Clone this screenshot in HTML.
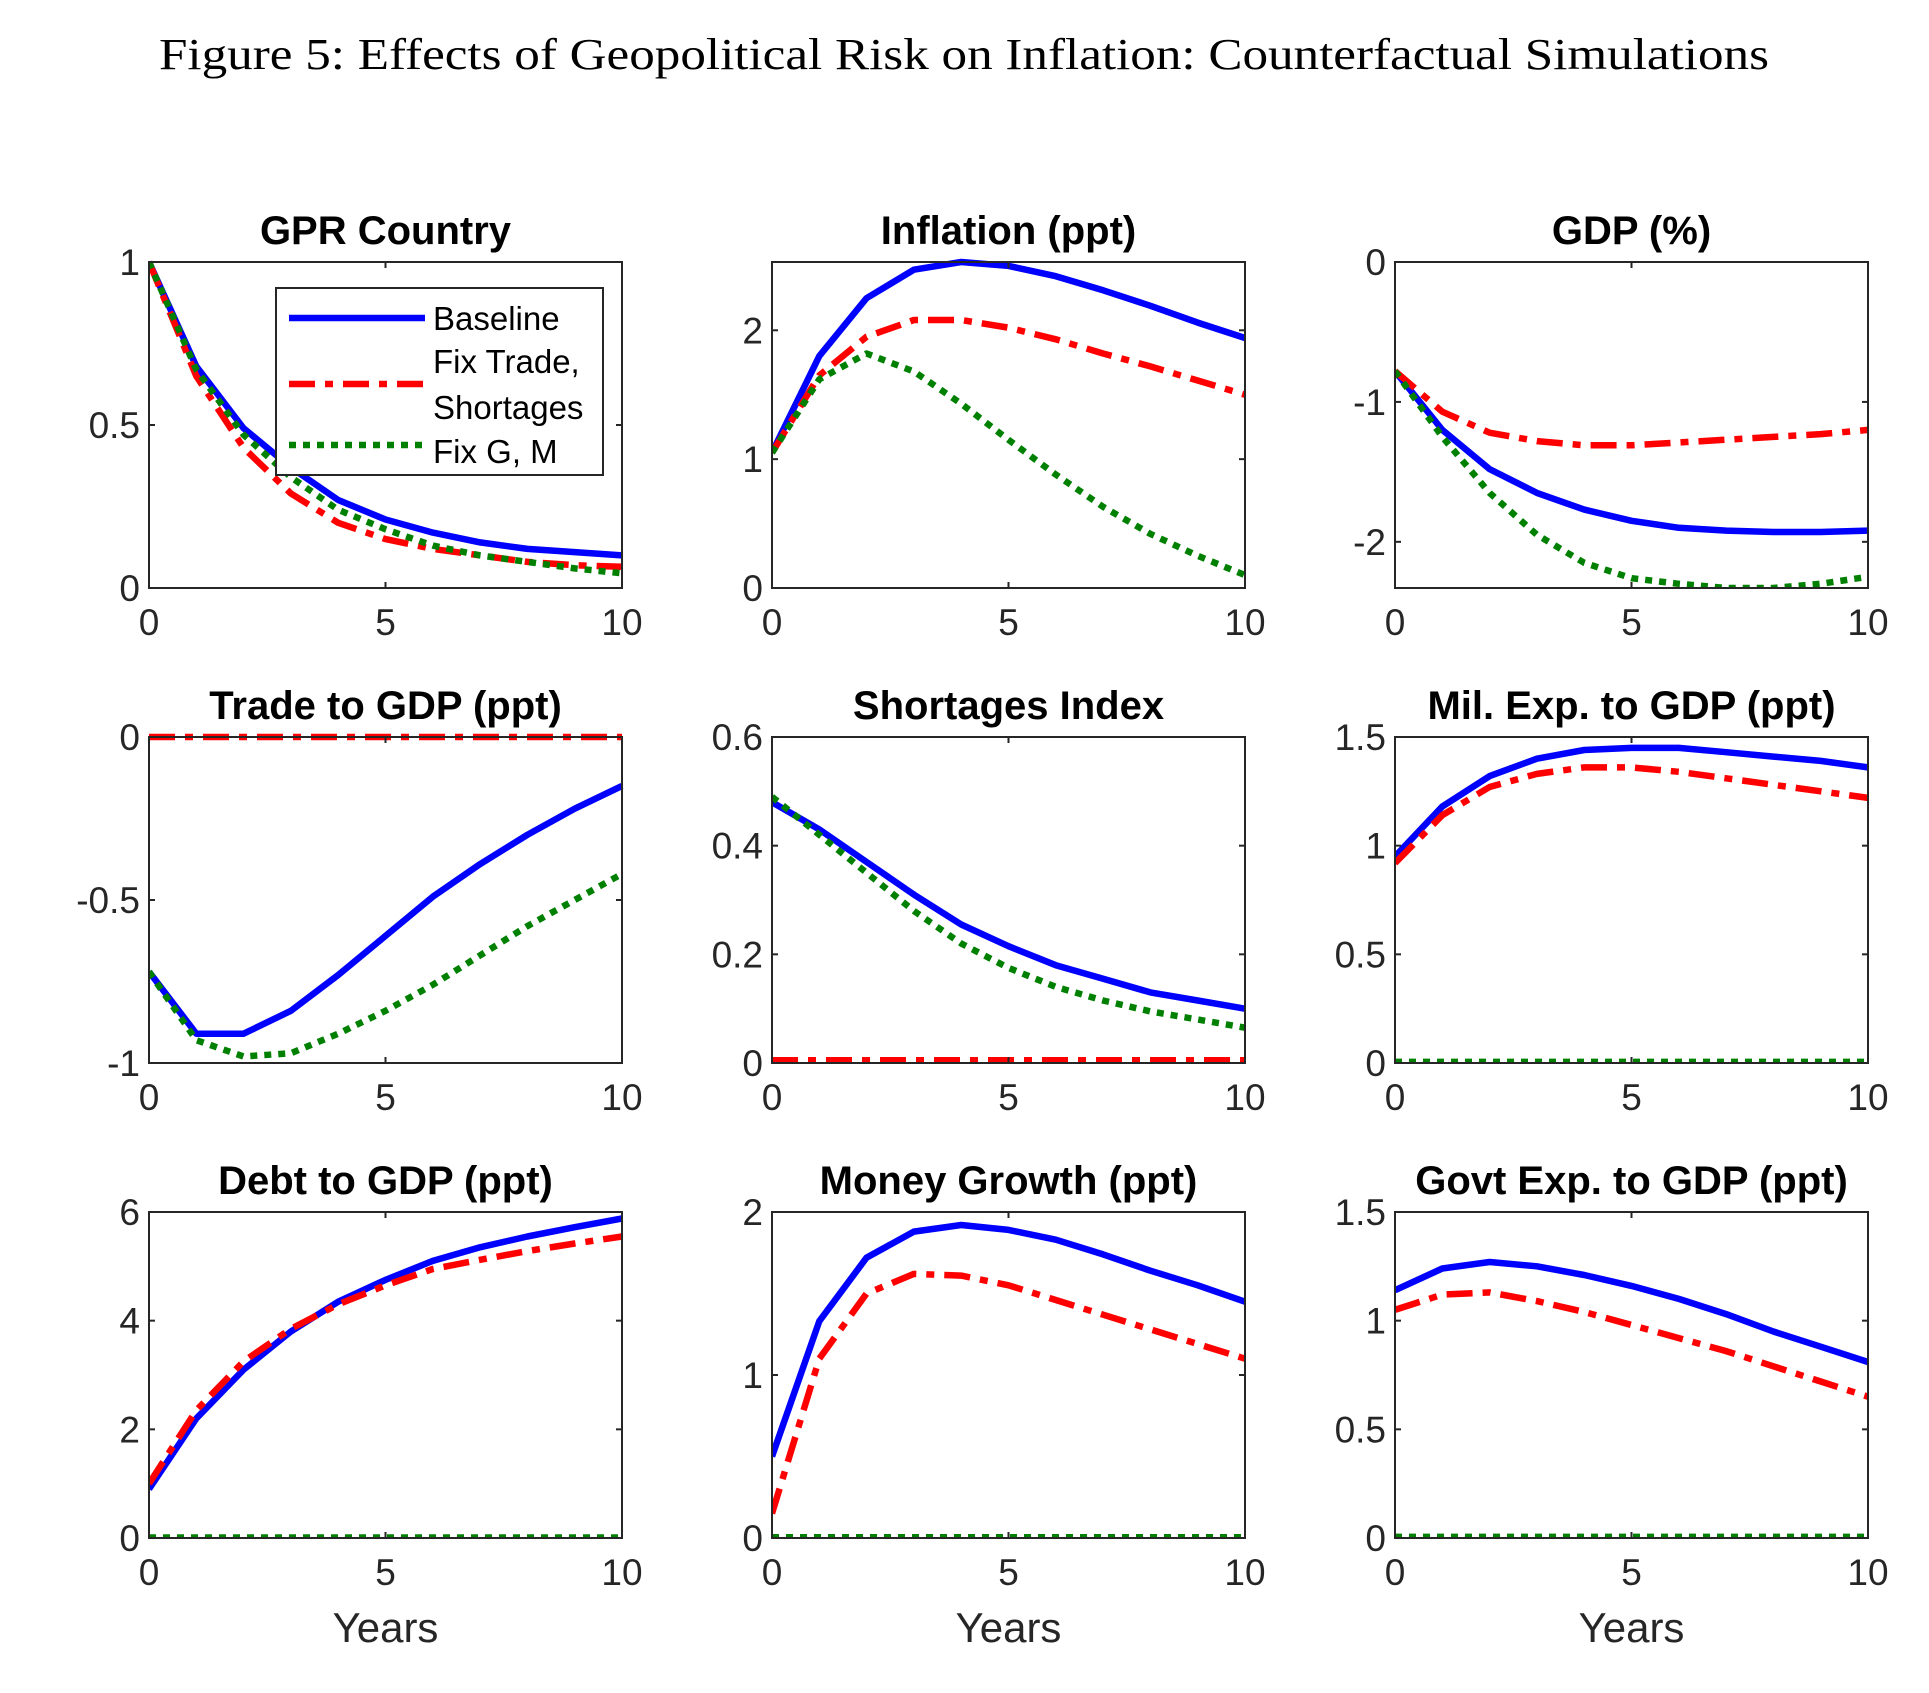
<!DOCTYPE html>
<html><head><meta charset="utf-8"><style>
html,body{margin:0;padding:0;background:#fff;}
svg{display:block;}
</style></head><body>
<svg id="fig" width="1929" height="1693" xmlns="http://www.w3.org/2000/svg">
<text x="964" y="69" text-anchor="middle" font-family="'Liberation Serif', serif" font-size="44" textLength="1610" lengthAdjust="spacingAndGlyphs" fill="#000">Figure 5: Effects of Geopolitical Risk on Inflation: Counterfactual Simulations</text>
</svg>
<script>
const years=[0,1,2,3,4,5,6,7,8,9,10];
const titles=["GPR Country","Inflation (ppt)","GDP (%)","Trade to GDP (ppt)","Shortages Index","Mil. Exp. to GDP (ppt)","Debt to GDP (ppt)","Money Growth (ppt)","Govt Exp. to GDP (ppt)"];
const yRanges=[[0,1],[0,2.53],[-2.33,0],[-1,0],[0,0.6],[0,1.5],[0,6],[0,2],[0,1.5]];
const yTicks=[[0,0.5,1],[0,1,2],[-2,-1,0],[-1,-0.5,0],[0,0.2,0.4,0.6],[0,0.5,1,1.5],[0,2,4,6],[0,1,2],[0,0.5,1,1.5]];
const xTicks=[0,5,10];
const baseline=[
[1,0.68,0.49,0.37,0.27,0.21,0.17,0.14,0.12,0.11,0.10],
[1.05,1.8,2.25,2.47,2.53,2.5,2.42,2.31,2.19,2.06,1.94],
[-0.78,-1.2,-1.48,-1.65,-1.77,-1.85,-1.9,-1.92,-1.93,-1.93,-1.92],
[-0.72,-0.91,-0.91,-0.84,-0.73,-0.61,-0.49,-0.39,-0.30,-0.22,-0.15],
[0.48,0.43,0.37,0.31,0.255,0.215,0.18,0.155,0.13,0.115,0.10],
[0.95,1.18,1.32,1.40,1.44,1.45,1.45,1.43,1.41,1.39,1.36],
[0.9,2.2,3.1,3.8,4.35,4.75,5.1,5.35,5.55,5.72,5.88],
[0.5,1.33,1.72,1.88,1.92,1.89,1.83,1.74,1.64,1.55,1.45],
[1.14,1.24,1.27,1.25,1.21,1.16,1.10,1.03,0.95,0.88,0.81]];
const fixTrade=[
[1,0.65,0.43,0.29,0.20,0.15,0.12,0.10,0.08,0.07,0.065],
[1.05,1.65,1.95,2.08,2.08,2.02,1.93,1.82,1.72,1.61,1.5],
[-0.78,-1.07,-1.22,-1.28,-1.31,-1.31,-1.29,-1.27,-1.25,-1.23,-1.2],
[0,0,0,0,0,0,0,0,0,0,0],
[0.005,0.005,0.005,0.005,0.005,0.005,0.005,0.005,0.005,0.005,0.005],
[0.92,1.14,1.27,1.33,1.36,1.36,1.34,1.31,1.28,1.25,1.22],
[1,2.35,3.25,3.85,4.3,4.65,4.95,5.12,5.28,5.42,5.55],
[0.15,1.1,1.5,1.62,1.61,1.55,1.46,1.37,1.28,1.19,1.1],
[1.05,1.12,1.13,1.09,1.04,0.98,0.92,0.86,0.79,0.72,0.65]];
const fixGM=[
[1,0.67,0.47,0.34,0.24,0.18,0.13,0.10,0.08,0.06,0.045],
[1.05,1.62,1.82,1.68,1.43,1.15,0.88,0.63,0.42,0.25,0.1],
[-0.78,-1.25,-1.65,-1.95,-2.15,-2.26,-2.3,-2.33,-2.33,-2.3,-2.25],
[-0.72,-0.93,-0.98,-0.97,-0.91,-0.84,-0.76,-0.67,-0.58,-0.50,-0.42],
[0.49,0.42,0.35,0.28,0.22,0.175,0.14,0.115,0.095,0.08,0.065],
[0.005,0.005,0.005,0.005,0.005,0.005,0.005,0.005,0.005,0.005,0.005],
[0.01,0.01,0.01,0.01,0.01,0.01,0.01,0.01,0.01,0.01,0.01],
[0.005,0.005,0.005,0.005,0.005,0.005,0.005,0.005,0.005,0.005,0.005],
[0.005,0.005,0.005,0.005,0.005,0.005,0.005,0.005,0.005,0.005,0.005]];

const NS="http://www.w3.org/2000/svg";
const svg=document.getElementById('fig');
const W=473,H=326,colX=[149,772,1395],rowY=[262,737,1212];
const FONT="'Liberation Sans', Arial, sans-serif";
function mk(tag,attrs,parent){const e=document.createElementNS(NS,tag);for(const k in attrs)e.setAttribute(k,attrs[k]);(parent||svg).appendChild(e);return e;}
function fmt(v){return String(v);}
const series=[{d:baseline,c:"#0000ff",dash:null,name:"baseline-line"},{d:fixTrade,c:"#ff0000",dash:"26 10 8 10",name:"fix-trade-line"},{d:fixGM,c:"#008000",dash:"7 7",name:"fix-gm-line"}];
for(let p=0;p<9;p++){
  const x0=colX[p%3],y0=rowY[Math.floor(p/3)];
  const [ymin,ymax]=yRanges[p];
  const sx=v=>x0+v/10*W;
  const sy=v=>y0+H-(v-ymin)/(ymax-ymin)*H;
  const g=mk('g',{});
  
  
  const t=mk('text',{x:x0+W/2,y:y0-18,'text-anchor':'middle','font-family':FONT,'font-size':40,'font-weight':'bold'},g);
  t.textContent=titles[p];
  
  
  const cp='cp'+p;
  const cl=mk('clipPath',{id:cp},g);mk('rect',{x:x0,y:y0-4,width:W+4,height:H+4},cl);
  const lg=mk('g',{'clip-path':'url(#'+cp+')'},g);
  series.forEach(s=>{
    const pts=years.map((yr,i)=>sx(yr).toFixed(1)+','+sy(s.d[p][i]).toFixed(1)).join(' ');
    const a={points:pts,fill:'none',stroke:s.c,'stroke-width':6.5,'stroke-linejoin':'round'};
    if(s.dash)a['stroke-dasharray']=s.dash;
    const pl=mk('polyline',a,lg);
    
    
  });
  const box=mk('rect',{x:x0,y:y0,width:W,height:H,fill:'none',stroke:'#262626','stroke-width':2},g);
  
  
  xTicks.forEach(v=>{
    const X=sx(v);
    mk('line',{x1:X,y1:y0+H,x2:X,y2:y0+H-6,stroke:'#262626','stroke-width':2},g);
    mk('line',{x1:X,y1:y0,x2:X,y2:y0+6,stroke:'#262626','stroke-width':2},g);
    const tl=mk('text',{x:X,y:y0+H+47,'text-anchor':'middle','font-family':FONT,'font-size':37,fill:'#262626'},g);
    tl.textContent=fmt(v);
    
    
  });
  yTicks[p].forEach(v=>{
    const Y=sy(v);
    mk('line',{x1:x0,y1:Y,x2:x0+6,y2:Y,stroke:'#262626','stroke-width':2},g);
    mk('line',{x1:x0+W,y1:Y,x2:x0+W-6,y2:Y,stroke:'#262626','stroke-width':2},g);
    const tl=mk('text',{x:x0-9,y:Y+13,'text-anchor':'end','font-family':FONT,'font-size':37,fill:'#262626'},g);
    tl.textContent=fmt(v);
    
    
  });
  if(p>=6){
    const xl=mk('text',{x:x0+W/2,y:y0+H+104,'text-anchor':'middle','font-family':FONT,'font-size':42,fill:'#262626'},g);
    xl.textContent='Years';
    
    
  }
}
// legend
const lgd=mk('g',{});


mk('rect',{x:276,y:288,width:327,height:187,fill:'#fff',stroke:'#262626','stroke-width':2},lgd);
const entries=[{c:"#0000ff",dash:null,y:318,labels:["Baseline"],ty:[330]},{c:"#ff0000",dash:"26 10 8 10",y:384,labels:["Fix Trade,","Shortages"],ty:[373,419]},{c:"#008000",dash:"7 7",y:445,labels:["Fix G, M"],ty:[463]}];
entries.forEach((e,i)=>{
  const a={x1:289,y1:e.y,x2:425,y2:e.y,stroke:e.c,'stroke-width':6.5};
  if(e.dash)a['stroke-dasharray']=e.dash;
  const ln=mk('line',a,lgd);
  
  
  e.labels.forEach((lab,j)=>{
    const tx=mk('text',{x:433,y:e.ty[j],'font-family':FONT,'font-size':33,fill:'#000'},lgd);
    tx.textContent=lab;
    
    
  });
});
</script>
</body></html>
